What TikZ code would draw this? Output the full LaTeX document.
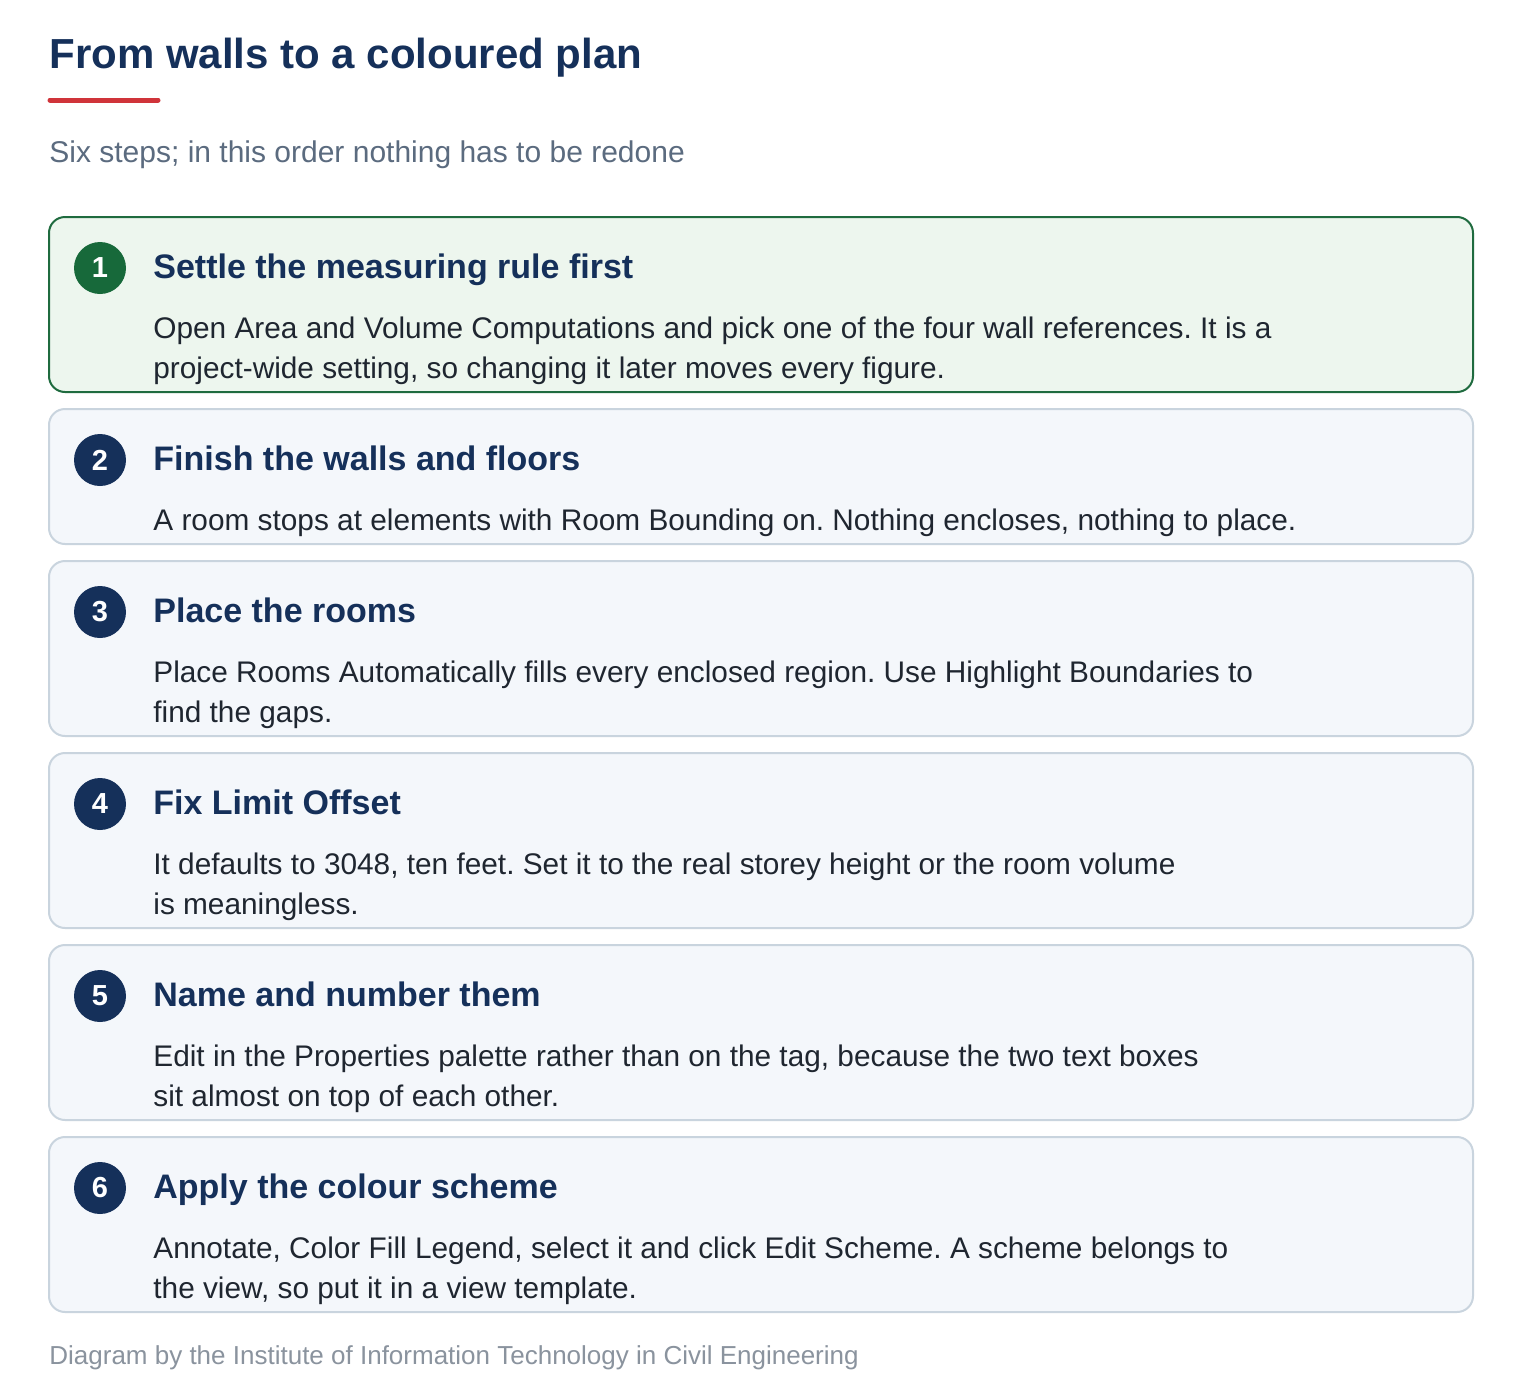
\documentclass[tikz,border=0pt]{standalone}
\usepackage{fontspec}
\setmainfont{Liberation Sans}
\usetikzlibrary{positioning}
\frenchspacing

\definecolor{navy}{HTML}{15305A}
\definecolor{accentred}{HTML}{D0343A}
\definecolor{subgray}{HTML}{5B6B7F}
\definecolor{bodyink}{HTML}{1F2630}
\definecolor{footgray}{HTML}{8A939E}
\definecolor{doneline}{HTML}{1F6B3F}
\definecolor{donefill}{HTML}{EDF6EE}
\definecolor{donedot}{HTML}{17693A}
\definecolor{cardline}{HTML}{C9D4DE}
\definecolor{cardfill}{HTML}{F4F7FB}

\tikzset{
  card/.style={draw=cardline, fill=cardfill, line width=1pt, rounded corners=8pt,
    minimum width=712pt, inner sep=0pt, anchor=north west},
  donecard/.style={card, draw=doneline, fill=donefill},
  stepdot/.style={circle, fill=navy, minimum size=26pt, inner sep=0pt,
    text=white, font=\fontsize{14.5}{16}\selectfont\bfseries},
  donedot/.style={stepdot, fill=donedot},
  steptitle/.style={anchor=base west, inner sep=0pt, text=navy,
    font=\fontsize{17}{20}\selectfont\bfseries},
  % base of a multi-line text is its last line
  steptext/.style={anchor=base west, inner sep=0pt, text=bodyink, align=left,
    font=\fontsize{14.9}{20}\selectfont}
}

\begin{document}
\begin{tikzpicture}[x=0.5pt, y=-0.5pt]
\useasboundingbox[fill=white] (0,0) rectangle (1520,1392);

% Heading
\node[anchor=base west, inner sep=0pt, text=navy, font=\fontsize{21}{24}\selectfont\bfseries] (title) at (49,68) {From walls to a coloured plan};
\draw[accentred, line width=2.5pt, line cap=round] (50,100) -- (158,100);
\node[anchor=base west, inner sep=0pt, text=subgray, font=\fontsize{15}{17}\selectfont] (subtitle) at (49,162) {Six steps; in this order nothing has to be redone};

% Step 1 (done)
\node[donecard, minimum height=87.5pt] (card1) at (48,216) {};
\node[donedot] (dot1) at (100,268) {1};
\node[steptitle] (head1) at (153,278) {Settle the measuring rule first};
\node[steptext] (text1) at (153,378) {Open Area and Volume Computations and pick one of the four wall references. It is a\\project-wide setting, so changing it later moves every figure.};

% Step 2
\node[card, minimum height=67.5pt] (card2) at (48,408) {};
\node[stepdot] (dot2) at (100,460) {2};
\node[steptitle] (head2) at (153,470) {Finish the walls and floors};
\node[steptext] (text2) at (153,530) {A room stops at elements with Room Bounding on. Nothing encloses, nothing to place.};

% Step 3
\node[card, minimum height=87.5pt] (card3) at (48,560) {};
\node[stepdot] (dot3) at (100,612) {3};
\node[steptitle] (head3) at (153,622) {Place the rooms};
\node[steptext] (text3) at (153,722) {Place Rooms Automatically fills every enclosed region. Use Highlight Boundaries to\\find the gaps.};

% Step 4
\node[card, minimum height=87.5pt] (card4) at (48,752) {};
\node[stepdot] (dot4) at (100,804) {4};
\node[steptitle] (head4) at (153,814) {Fix Limit Offset};
\node[steptext] (text4) at (153,914) {It defaults to 3048, ten feet. Set it to the real storey height or the room volume\\is meaningless.};

% Step 5
\node[card, minimum height=87.5pt] (card5) at (48,944) {};
\node[stepdot] (dot5) at (100,996) {5};
\node[steptitle] (head5) at (153,1006) {Name and number them};
\node[steptext] (text5) at (153,1106) {Edit in the Properties palette rather than on the tag, because the two text boxes\\sit almost on top of each other.};

% Step 6
\node[card, minimum height=87.5pt] (card6) at (48,1136) {};
\node[stepdot] (dot6) at (100,1188) {6};
\node[steptitle] (head6) at (153,1198) {Apply the colour scheme};
\node[steptext] (text6) at (153,1298) {Annotate, Color Fill Legend, select it and click Edit Scheme. A scheme belongs to\\the view, so put it in a view template.};

% Credit line
\node[anchor=base west, inner sep=0pt, text=footgray, font=\fontsize{13}{15}\selectfont] (credit) at (49,1364) {Diagram by the Institute of Information Technology in Civil Engineering};

\end{tikzpicture}
\end{document}
